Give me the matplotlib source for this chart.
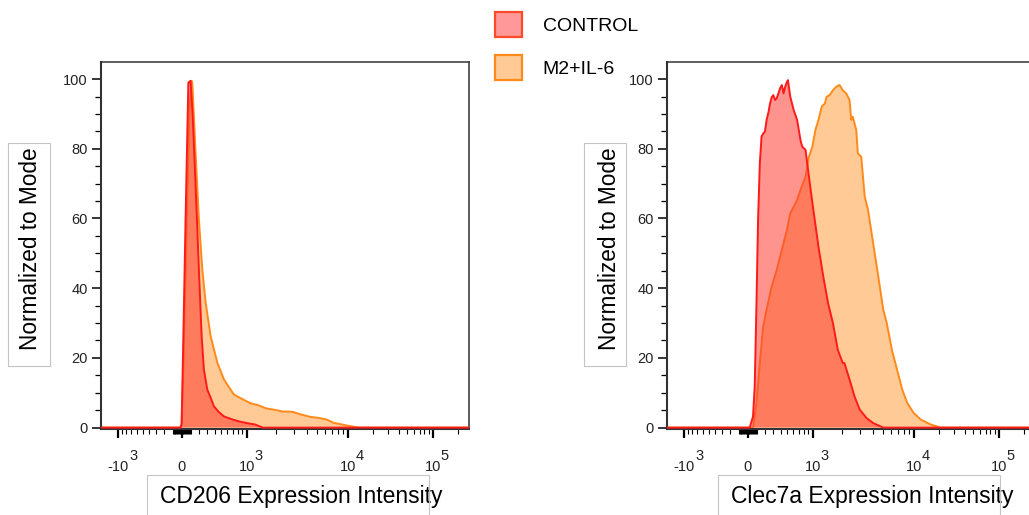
import numpy as np
import matplotlib
matplotlib.use("Agg")
import matplotlib.pyplot as plt
from matplotlib.patches import Patch, Rectangle

plt.rcParams['font.family'] = ['Liberation Sans', 'DejaVu Sans']

# ---- data (intensity, % of mode) ----
cd206_ctrl_x = [-1e4, -15, 0, 22, 44, 67, 75, 100, 123, 150, 175, 197, 230, 258, 301,
                350, 390, 460, 543, 680, 820, 1000, 1228, 1473, 1e6]
cd206_ctrl_y = [0, 0, 1, 30, 60, 89, 99, 99.5, 90, 74, 59, 45, 26, 16.6, 10.9,
                8.3, 6.1, 4.5, 3.2, 2.4, 1.8, 1.3, 0.9, 0, 0]

cd206_m2_x = [-1e4, -10, 0, 22, 44, 67, 89, 112, 120, 158, 197, 238, 280, 345, 440,
              543, 620, 720, 850, 1095, 1300, 1603, 1950, 2340, 2600, 2940, 3400,
              4300, 5200, 6300, 7270, 8500, 9800, 12760, 14200, 1e6]
cd206_m2_y = [0, 0, 1, 20, 45, 70, 92, 99.5, 98.8, 78.7, 59.6, 45.3, 35.8, 26.2, 18.6,
              13.8, 11.8, 9.5, 8.5, 7.0, 6.5, 5.5, 5.1, 4.6, 4.6, 4.5, 3.9,
              3.1, 2.8, 2.3, 1.4, 1.0, 0.6, 0.1, 0, 0]

clec_ctrl_x = [-1e4, 0, 23, 60, 79, 99, 117, 137, 157, 180, 197, 217, 240, 259, 280,
               301, 324, 345, 369, 395, 418, 442, 467, 490, 510, 548, 606, 667, 731,
               766, 836, 873, 952, 1030, 1154, 1294, 1450, 1625, 1820, 2040, 2120,
               2380, 2660, 2990, 3480, 4050, 5080, 1e6]
clec_ctrl_y = [0, 0, 0, 3.2, 11.8, 35.7, 59.6, 75.8, 83.5, 84.5, 84.9, 88.3, 90.5, 93.0, 94.8,
               95.4, 94.0, 94.5, 95.9, 97.5, 98.3, 95.9, 97.8, 99.0, 99.7, 94.9, 91.1, 88.3, 82.5,
               80.6, 79.7, 75.8, 68.2, 61.5, 51.9, 43.4, 35.7, 30.0, 22.3, 18.5, 18.5,
               13.8, 9.0, 5.2, 2.8, 1.3, 0, 0]

clec_m2_x = [-1e4, 0, 60, 99, 137, 176, 217, 280, 347, 418, 494, 548, 606, 667, 731,
             836, 911, 993, 1071, 1154, 1247, 1345, 1398, 1507, 1625, 1755, 1893, 2040,
             2205, 2380, 2470, 2560, 2770, 2870, 3100, 3350, 3610, 4050, 4540, 5080,
             5490, 6160, 6910, 7750, 8660, 10000, 12100, 15850, 20800, 1e6]
clec_m2_y = [0, 0, 0, 7.1, 18.5, 29.0, 33.8, 40.5, 45.3, 51.0, 56.7, 61.5, 63.4, 65.3, 68.2,
             72.0, 77.7, 80.6, 85.4, 88.3, 92.1, 93.0, 94.9, 95.4, 96.8, 97.8, 98.3, 96.8,
             95.9, 94.0, 88.3, 89.2, 85.4, 78.7, 77.7, 66.3, 62.5, 52.9, 43.4, 33.8,
             30.0, 22.3, 16.6, 10.9, 7.1, 4.2, 2.3, 0.9, 0, 0]

series_names = ["CONTROL", "M2+IL-6"]
x_titles = ["CD206 Expression Intensity", "Clec7a Expression Intensity"]
y_title = "Normalized to Mode"
major_ticks = [-1e3, 0, 1e3, 1e4, 1e5]
major_base = ["-10", "0", "10", "10", "10"]
major_sup = ["3", "", "3", "4", "5"]

CTRL_FILL, CTRL_LINE = "#FF3B30", "#FF1A1A"
M2_FILL, M2_LINE = "#FFCA96", "#FF8A1A"

# ---- biexponential-like display scale ----
H_ANCH = np.arcsinh(np.array([-1e6, -1e5, -1e4, -1e3, 0, 1e3, 1e4, 1e5, 1e6]) / 500)
P_ANCH = np.array([-5.17, -3.862, -2.554, -0.985, 0, 1, 2.554, 3.862, 5.17])


def fwd(x):
    return np.interp(np.arcsinh(np.asarray(x, dtype=float) / 500), H_ANCH, P_ANCH)


def inv(p):
    return 500 * np.sinh(np.interp(np.asarray(p, dtype=float), P_ANCH, H_ANCH))


minor_ticks = []
for dec in [10, 100, 1000, 10000, 100000]:
    for k in range(2 if dec >= 1000 else 1, 10):
        minor_ticks += [k * dec, -k * dec]
minor_ticks = sorted(set(minor_ticks))

W, H = 1029, 515
fig = plt.figure(figsize=(W / 100, H / 100), dpi=100)


def rect(x0, y0, x1, y1):
    return [x0 / W, 1 - y1 / H, (x1 - x0) / W, (y1 - y0) / H]


axL = fig.add_axes(rect(101, 62, 469, 429))
axR = fig.add_axes(rect(667, 62, 1035, 429))


def draw(ax, xc, yc, xm, ym, xtitle, ylab_x, xlab_x):
    ax.set_xscale('function', functions=(fwd, inv))
    ax.fill_between(xm, 0, ym, facecolor=M2_FILL, edgecolor='none', zorder=1)
    ax.plot(xm, ym, color=M2_LINE, lw=1.4, zorder=2)
    ax.fill_between(xc, 0, yc, facecolor=CTRL_FILL, alpha=0.55, edgecolor='none', zorder=3)
    ax.plot(xc, yc, color=CTRL_LINE, lw=1.4, zorder=4)

    ax.set_xticks(major_ticks)
    ax.set_xticklabels(major_base)
    ax.set_xticks(minor_ticks, minor=True)
    ax.set_yticks(range(0, 101, 20))
    ax.set_yticks([v for v in range(0, 101, 5) if v % 20], minor=True)
    # limits after ticks, since set_ticks widens the view
    ax.set_xlim(inv(-1.24), inv(4.42))
    ax.set_ylim(-0.4, 104.9)

    ax.tick_params(axis='x', which='major', length=6.5, width=1.6, pad=15.5,
                   labelsize=10.5, labelcolor='#222222')
    ax.tick_params(axis='x', which='minor', length=3.3, width=0.8)
    ax.tick_params(axis='y', which='major', length=6.5, width=1.1, pad=3,
                   labelsize=10.5, labelcolor='#222222')
    ax.tick_params(axis='y', which='minor', length=4.3, width=0.9)
    for sp in ax.spines.values():
        sp.set_color('#333333')
        sp.set_linewidth(1.1)
    ax.spines['left'].set_linewidth(1.5)
    ax.spines['bottom'].set_linewidth(1.5)

    for v, base, sup in zip(major_ticks, major_base, major_sup):
        if sup:
            dx = 12 if base.startswith('-') else 8
            ax.annotate(sup, xy=(v, 0), xycoords=('data', 'axes fraction'),
                        xytext=(dx, -27), textcoords='offset pixels',
                        ha='left', va='center', fontsize=10.5, color='#222222',
                        annotation_clip=False)

    ax.set_xlabel(xtitle, fontsize=16.5, va='center')
    ax.xaxis.set_label_coords(xlab_x, (429 - 497) / 367)
    ax.set_ylabel(y_title, fontsize=16.3, va='center')
    ax.yaxis.set_label_coords(ylab_x, (429 - 249) / 367)


draw(axL, cd206_ctrl_x, cd206_ctrl_y, cd206_m2_x, cd206_m2_y, x_titles[0],
     (31 - 101) / 368, (301.5 - 101) / 368)
draw(axR, clec_ctrl_x, clec_ctrl_y, clec_m2_x, clec_m2_y, x_titles[1],
     (609 - 667) / 368, (872.5 - 667) / 368)

# label frames
for x0, y0, x1, y1 in [(8, 143, 50, 366), (584, 143, 626, 366),
                       (147, 475, 429, 525), (718, 475, 1000, 525)]:
    fig.add_artist(Rectangle((x0 / W, 1 - y1 / H), (x1 - x0) / W, (y1 - y0) / H,
                             transform=fig.transFigure, fill=False,
                             edgecolor='#C4C4C4', lw=0.8))

handles = [Patch(facecolor='#FF9898', edgecolor='#FF4A2A', lw=1.6, label=series_names[0]),
           Patch(facecolor='#FFCA96', edgecolor='#FF8A1A', lw=1.6, label=series_names[1])]
fig.legend(handles=handles, loc='upper left', bbox_to_anchor=(495 / W, 1 - 12 / H),
           frameon=False, fontsize=14, handlelength=1.4, handleheight=1.6,
           handletextpad=1.05, labelspacing=0.95, borderpad=0, borderaxespad=0)

fig.savefig("out.png", dpi=100)
